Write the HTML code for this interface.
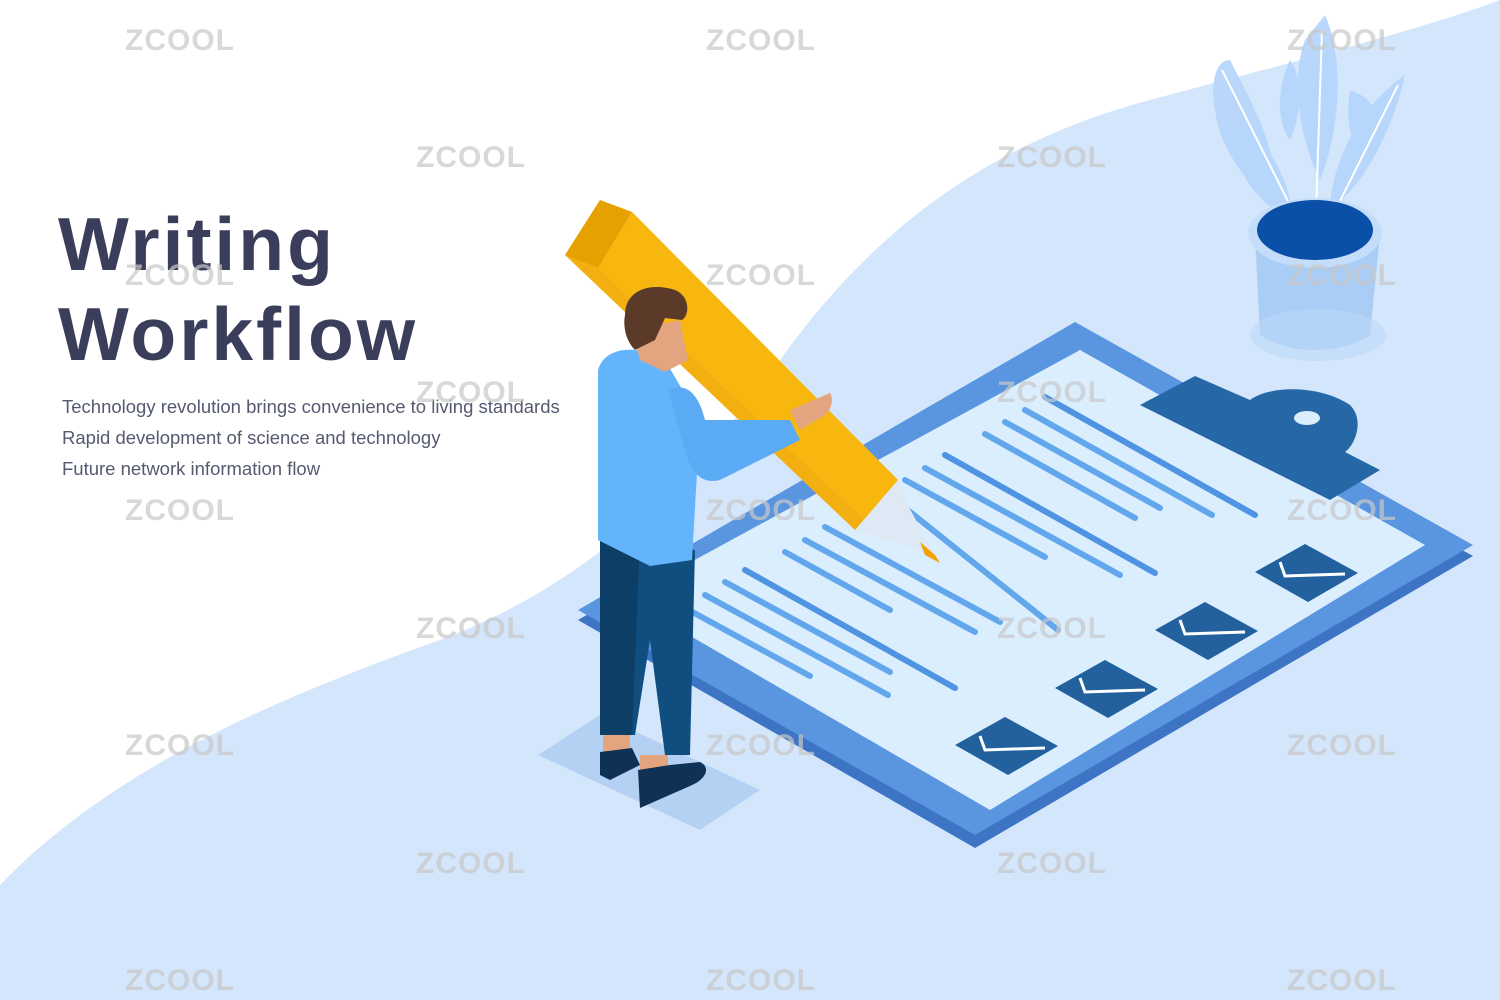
<!DOCTYPE html>
<html><head><meta charset="utf-8"><style>
html,body{margin:0;padding:0;width:1500px;height:1000px;overflow:hidden;background:#fff}
svg{display:block}
</style></head><body>
<svg width="1500" height="1000" viewBox="0 0 1500 1000" xmlns="http://www.w3.org/2000/svg">
<rect width="1500" height="1000" fill="#fff"/>
<path d="M0 885 C120 760 300 690 440 640 C600 580 700 470 780 360 C880 220 1000 140 1150 100 C1300 60 1420 30 1500 0 L1500 1000 L0 1000 Z" fill="#d4e6fb"/>
<path d="M578 620 L1075 335 L1473 556 L975 848 Z" fill="#3d74c4"/>
<path d="M578 610 L1075 322 L1473 545 L975 835 Z" fill="#5a95e0"/>
<path d="M625 598 L1080 350 L1425 545 L990 810 Z" fill="#dbeefe"/>
<path d="M1140 405 L1195 376 L1250 400 C1270 385 1320 385 1350 405 C1365 420 1355 445 1345 452 L1380 470 L1330 500 L1140 405 Z" fill="#2668a6"/>
<ellipse cx="1307" cy="418" rx="13" ry="7" fill="#dbeefe"/>
<g stroke-width="6" stroke-linecap="round" fill="none">
<g stroke="#4f93e3">
<line x1="1045" y1="397" x2="1255" y2="515"/>
<line x1="945" y1="455" x2="1155" y2="573"/>
<line x1="745" y1="570" x2="955" y2="688"/>
</g>
<g stroke="#62a6ec">
<line x1="1025" y1="410" x2="1212" y2="515"/>
<line x1="1005" y1="422" x2="1160" y2="508"/>
<line x1="985" y1="434" x2="1135" y2="518"/>
<line x1="925" y1="468" x2="1120" y2="575"/>
<line x1="905" y1="480" x2="1045" y2="557"/>
<line x1="885" y1="492" x2="1058" y2="630"/>
<line x1="825" y1="527" x2="1000" y2="622"/>
<line x1="805" y1="540" x2="975" y2="632"/>
<line x1="785" y1="552" x2="890" y2="610"/>
<line x1="725" y1="582" x2="890" y2="672"/>
<line x1="705" y1="595" x2="888" y2="695"/>
<line x1="685" y1="608" x2="810" y2="676"/>
</g>
</g>
<g fill="#22609e">
<path d="M955 745 L1005 717 L1058 746 L1008 775 Z"/>
<path d="M1055 688 L1105 660 L1158 689 L1108 718 Z"/>
<path d="M1155 630 L1205 602 L1258 631 L1208 660 Z"/>
<path d="M1255 572 L1305 544 L1358 573 L1308 602 Z"/>
</g>
<g stroke="#fff" stroke-width="3" fill="none">
<path d="M980 736 L985 750 L1045 748"/>
<path d="M1080 678 L1085 692 L1145 690"/>
<path d="M1180 620 L1185 634 L1245 632"/>
<path d="M1280 562 L1285 576 L1345 574"/>
</g>
<path d="M538 755 L600 715 L760 790 L700 830 Z" fill="#b4d1f3"/>
<path d="M600 530 L695 550 L690 755 L665 755 L650 640 L635 735 L600 735 Z" fill="#104e80"/>
<path d="M600 530 L640 540 L632 735 L600 735 Z" fill="#0d3e66"/>
<path d="M603 735 L630 735 L630 752 L603 752 Z" fill="#e3a57f"/>
<path d="M640 755 L668 755 L668 770 L640 770 Z" fill="#e3a57f"/>
<path d="M600 752 L632 748 L640 765 L610 780 L600 775 Z" fill="#0e3155"/>
<path d="M638 770 L670 765 L700 762 C712 768 705 780 690 786 L640 808 Z" fill="#0e3155"/>
<path d="M565 255 L600 200 L632 212 L898 480 L905 500 L855 530 Z" fill="#fbd04a"/>
<path d="M565 255 L600 200 L632 212 L598 268 Z" fill="#e5a100"/>
<path d="M565 255 L598 268 L870 525 L855 530 Z" fill="#f3ae10"/>
<path d="M598 268 L632 212 L898 480 L870 525 Z" fill="#f7b70e"/>
<path d="M855 530 L898 480 L905 500 L935 555 Z" fill="#dfe9f5"/>
<path d="M920 542 L935 555 L940 563 L925 555 Z" fill="#f3a000"/>
<path d="M598 370 C605 345 640 345 665 360 L700 420 L692 560 L650 566 L598 540 Z" fill="#64b4fb"/>
<path d="M668 390 C690 380 700 400 705 420 L790 420 L800 440 L720 480 C700 485 690 470 685 450 Z" fill="#5aaaf4"/>
<path d="M790 410 L830 393 C835 400 830 415 820 418 L800 430 Z" fill="#e3a57f"/>
<path d="M632 330 L680 320 L688 360 L665 372 L640 360 Z" fill="#e3a57f"/>
<path d="M625 315 C625 290 650 282 675 290 C690 296 690 315 682 320 L665 318 L655 340 L635 350 C625 340 623 325 625 315 Z" fill="#5b3a29"/>
<g fill="#b6d6fb" opacity="0.95">
<path d="M1230 60 C1250 100 1280 150 1275 200 C1250 190 1220 150 1215 110 C1210 85 1215 60 1230 60 Z"/>
<path d="M1325 15 C1345 60 1340 130 1320 180 C1300 140 1290 80 1305 40 Z"/>
<path d="M1405 75 C1395 120 1370 180 1330 210 C1330 170 1355 110 1405 75 Z"/>
<path d="M1250 130 C1275 150 1290 190 1295 220 C1265 210 1240 180 1235 150 Z"/>
<path d="M1350 90 C1380 100 1390 130 1370 160 C1350 150 1345 120 1350 90 Z"/>
<path d="M1290 60 C1305 80 1300 120 1290 140 C1275 120 1278 85 1290 60 Z"/>
</g>
<g stroke="#fff" stroke-width="2" fill="none">
<path d="M1222 70 L1310 245"/><path d="M1322 30 L1315 245"/><path d="M1398 85 L1318 245"/>
</g>
<path d="M1255 235 L1380 235 L1370 335 C1340 355 1290 355 1260 335 Z" fill="#a9cdf5"/>
<ellipse cx="1318" cy="335" rx="68" ry="26" fill="#bad8f8" opacity="0.6"/>
<ellipse cx="1315" cy="233" rx="67" ry="35" fill="#c3ddfa"/>
<ellipse cx="1315" cy="230" rx="58" ry="30" fill="#0a4fa8"/>
<text x="58" y="270" font-family="Liberation Sans, sans-serif" font-weight="bold" font-size="75" fill="#3a3e5a" letter-spacing="3">Writing</text>
<text x="58" y="360" font-family="Liberation Sans, sans-serif" font-weight="bold" font-size="75" fill="#3a3e5a" letter-spacing="3">Workflow</text>
<g font-family="Liberation Sans, sans-serif" font-size="18.5" fill="#555a70">
<text x="62" y="413">Technology revolution brings convenience to living standards</text>
<text x="62" y="444">Rapid development of science and technology</text>
<text x="62" y="475">Future network information flow</text>
</g>
<g font-family="Liberation Sans, sans-serif" font-weight="bold" font-size="30" fill="#c8c8c8" opacity="0.7" letter-spacing="1">
<text x="125" y="50">ZCOOL</text><text x="706" y="50">ZCOOL</text><text x="1287" y="50">ZCOOL</text>
<text x="416" y="167">ZCOOL</text><text x="997" y="167">ZCOOL</text>
<text x="125" y="285">ZCOOL</text><text x="706" y="285">ZCOOL</text><text x="1287" y="285">ZCOOL</text>
<text x="416" y="402">ZCOOL</text><text x="997" y="402">ZCOOL</text>
<text x="125" y="520">ZCOOL</text><text x="706" y="520">ZCOOL</text><text x="1287" y="520">ZCOOL</text>
<text x="416" y="638">ZCOOL</text><text x="997" y="638">ZCOOL</text>
<text x="125" y="755">ZCOOL</text><text x="706" y="755">ZCOOL</text><text x="1287" y="755">ZCOOL</text>
<text x="416" y="873">ZCOOL</text><text x="997" y="873">ZCOOL</text>
<text x="125" y="990">ZCOOL</text><text x="706" y="990">ZCOOL</text><text x="1287" y="990">ZCOOL</text>
</g>
</svg>
</body></html>
